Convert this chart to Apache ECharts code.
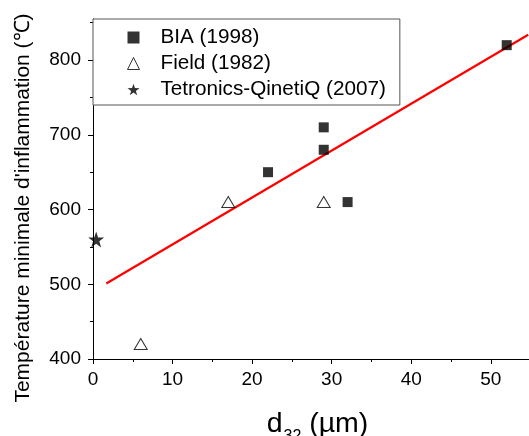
<!DOCTYPE html>
<html>
<head>
<meta charset="utf-8">
<script src="https://cdn.jsdelivr.net/npm/echarts@6/dist/echarts.min.js"></script>
<style>
  html, body { margin: 0; padding: 0; background: #fff; }
  #chart { width: 529px; height: 436px; }
</style>
</head>
<body>
<div id="chart"></div>
<script>
// ---- data ----
const biaX = [22, 29, 29, 32, 52];
const biaY = [650, 710, 680, 610, 820];
const fieldX = [6, 17, 29];
const fieldY = [420, 610, 610];
const tetronicsX = [0.4];
const tetronicsY = [560];
const fitX = [1.67, 54.7];
const fitY = [501, 834];

const xMajorTicks = [0, 10, 20, 30, 40, 50];
const xMinorTicks = [5, 15, 25, 35, 45];
const yMajorTicks = [400, 500, 600, 700, 800];
const yMinorTicks = [450, 550, 650, 750, 850];

const seriesNames = ['BIA (1998)', 'Field (1982)', 'Tetronics-QinetiQ (2007)'];
const xTitle = 'd';
const xTitleSub = '32';
const xTitleUnit = ' (µm)';
const yTitle = "Température minimale d'inflammation (℃)";

const pairs = (xs, ys) => xs.map((x, i) => [x, ys[i]]);

const FONT = '"Liberation Sans", Arial, sans-serif';
const starPath = 'path://M50,0 L61.8,35.2 L98.8,35.6 L69.1,57.8 L80.2,93.2 L50,71.8 L19.8,93.2 L30.9,57.8 L1.2,35.6 L38.2,35.2 Z';

const chart = echarts.init(document.getElementById('chart'), null, { renderer: 'canvas' });

const xCommon = { type: 'value', min: 0, max: 54.8, position: 'bottom' };
const yCommon = { type: 'value', min: 400, max: 855, position: 'left' };

chart.setOption({
  animation: false,
  backgroundColor: '#ffffff',
  grid: { left: 93, right: 0, top: 19, bottom: 77, containLabel: false, outerBoundsMode: 'none' },
  xAxis: [
    Object.assign({}, xCommon, {
      axisLine: { show: true, onZero: false, lineStyle: { color: '#000', width: 1 } },
      axisTick: { show: true, inside: false, length: 5, customValues: xMajorTicks, lineStyle: { color: '#000', width: 1 } },
      axisLabel: { show: true, customValues: xMajorTicks, margin: 11, color: '#000', fontSize: 19, fontFamily: FONT },
      splitLine: { show: false },
      name: '{a|' + xTitle + '}{b|' + xTitleSub + '}{a|' + xTitleUnit + '}',
      nameLocation: 'middle',
      nameGap: 51,
      nameTextStyle: {
        padding: [0, 0, 0, 13],
        rich: {
          a: { fontSize: 28.5, fontFamily: FONT, color: '#000', lineHeight: 31, verticalAlign: 'top' },
          b: { fontSize: 16, fontFamily: FONT, color: '#000', lineHeight: 16, verticalAlign: 'top', padding: [19, 0, 0, 1] }
        }
      }
    }),
    Object.assign({}, xCommon, {
      axisLine: { show: false, onZero: false },
      axisTick: { show: true, inside: false, length: 3, customValues: xMinorTicks, lineStyle: { color: '#000', width: 1 } },
      axisLabel: { show: false },
      splitLine: { show: false }
    })
  ],
  yAxis: [
    Object.assign({}, yCommon, {
      axisLine: { show: true, onZero: false, lineStyle: { color: '#000', width: 1 } },
      axisTick: { show: true, inside: false, length: 5, customValues: yMajorTicks, lineStyle: { color: '#000', width: 1 } },
      axisLabel: { show: true, customValues: yMajorTicks, margin: 12, color: '#000', fontSize: 19, fontFamily: FONT },
      splitLine: { show: false },
      name: yTitle,
      nameLocation: 'middle',
      nameGap: 59.5,
      nameTextStyle: { fontSize: 21, fontFamily: FONT, color: '#000', padding: [0, 38, 0, 0] }
    }),
    Object.assign({}, yCommon, {
      axisLine: { show: false, onZero: false },
      axisTick: { show: true, inside: false, length: 3, customValues: yMinorTicks, lineStyle: { color: '#000', width: 1 } },
      axisLabel: { show: false },
      splitLine: { show: false }
    })
  ],
  legend: {
    show: true,
    orient: 'vertical',
    left: 93,
    top: 19,
    padding: [8, 14, 5, 34],
    itemGap: 5,
    itemWidth: 12,
    itemHeight: 12,
    backgroundColor: '#fff',
    borderColor: '#555',
    borderWidth: 1,
    borderRadius: 0,
    data: [
      { name: seriesNames[0] },
      { name: seriesNames[1], itemStyle: { borderWidth: 1, borderColor: '#000', color: '#fff' } },
      { name: seriesNames[2] }
    ],
    textStyle: { fontSize: 20.7, fontFamily: FONT, color: '#000', padding: [0, 0, 0, 16] }
  },
  series: [
    {
      name: seriesNames[0], type: 'scatter', xAxisIndex: 0, yAxisIndex: 0,
      symbol: 'rect', symbolSize: 10,
      itemStyle: { color: '#000' },
      data: pairs(biaX, biaY), z: 3
    },
    {
      name: seriesNames[1], type: 'scatter', xAxisIndex: 0, yAxisIndex: 0,
      symbol: 'triangle', symbolSize: [13, 11],
      itemStyle: { color: '#fff', borderColor: '#000', borderWidth: 1 },
      data: pairs(fieldX, fieldY), z: 3
    },
    {
      name: seriesNames[2], type: 'scatter', xAxisIndex: 0, yAxisIndex: 0,
      symbol: starPath, symbolSize: 16,
      itemStyle: { color: '#000' },
      data: pairs(tetronicsX, tetronicsY), z: 3
    },
    {
      name: 'fit', type: 'line', xAxisIndex: 0, yAxisIndex: 0,
      showSymbol: false, symbol: 'none',
      lineStyle: { color: '#ff0000', width: 2.2 },
      data: pairs(fitX, fitY), z: 2
    }
  ]
});
</script>
</body>
</html>
